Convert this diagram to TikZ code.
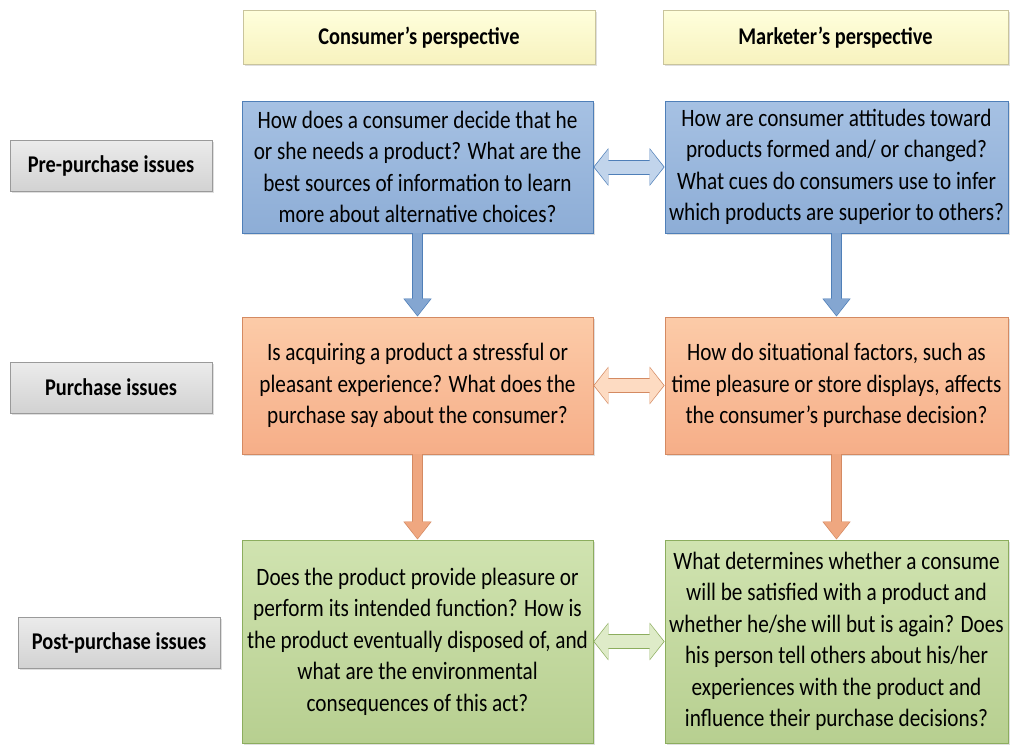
\documentclass[tikz,border=0pt]{standalone}
\usepackage{fontspec}
\setmainfont{Carlito}[FakeStretch=0.85]
\usepackage{tikz}
\usetikzlibrary{arrows.meta}
\usetikzlibrary{shadows}

\definecolor{hdrtop}{HTML}{FFFFDC}
\definecolor{hdrbot}{HTML}{F7F2BE}
\definecolor{hdrrim}{HTML}{C9C49C}
\definecolor{lbltop}{HTML}{EBEBEB}
\definecolor{lblbot}{HTML}{D2D2D2}
\definecolor{lblrim}{HTML}{9A9A9A}
\definecolor{bluetop}{HTML}{A6C1E3}
\definecolor{bluebot}{HTML}{8DADD6}
\definecolor{bluerim}{HTML}{4F7FB8}
\definecolor{orangetop}{HTML}{FCCBA8}
\definecolor{orangebot}{HTML}{F6AE88}
\definecolor{orangerim}{HTML}{D48A62}
\definecolor{greentop}{HTML}{D0E3B0}
\definecolor{greenbot}{HTML}{B7CF90}
\definecolor{greenrim}{HTML}{8CAD5E}

\tikzset{
        panel/.style n args={3}{rectangle, inner sep=0pt, align=center,
                draw=#3, line width=0.8pt, top color=#1, bottom color=#2,
                drop shadow={opacity=0.25, shadow xshift=1.5pt, shadow yshift=-1.5pt},
                font=\fontsize{25}{31.5}\selectfont},
        header/.style={panel={hdrtop}{hdrbot}{hdrrim}, minimum height=54pt,
                font=\fontsize{24}{28}\selectfont\bfseries},
        issue/.style={panel={lbltop}{lblbot}{lblrim}, minimum width=202pt,
                minimum height=51pt, font=\fontsize{24}{28}\selectfont\bfseries},
        downrim/.style={line width=11pt, draw=#1, -{Triangle[width=27pt,length=18pt]}},
        downfill/.style={line width=9pt, draw=#1, shorten >=1pt, -{Triangle[width=25pt,length=17pt]}},
        bothrim/.style={line width=15pt, draw=#1,
                {Triangle[width=37pt,length=15pt]}-{Triangle[width=37pt,length=15pt]}},
        bothfill/.style={line width=13pt, draw=#1, shorten >=1pt, shorten <=1pt,
                {Triangle[width=35pt,length=14pt]}-{Triangle[width=35pt,length=14pt]}},
}

\begin{document}
\begin{tikzpicture}[x=1pt, y=-1pt]
        \useasboundingbox (0,0) rectangle (1010,745);

        % column headers
        \node[header, minimum width=352pt] (hcons) at (419,37.5) {Consumer’s perspective};
        \node[header, minimum width=345pt] (hmark) at (835.5,37.5) {Marketer’s perspective};

        % row labels
        \node[issue] (pre) at (111,166) {Pre-purchase issues};
        \node[issue] (pur) at (111,387.5) {Purchase issues};
        \node[issue] (post) at (119,643) {Post-purchase issues};

        % pre-purchase
        \node[panel={bluetop}{bluebot}{bluerim}, minimum width=351pt, minimum height=132pt]
                (preC) at (417.5,167) {How does a consumer decide that he\\or she needs a product? What are the\\best sources of information to learn\\more about alternative choices?};
        \node[panel={bluetop}{bluebot}{bluerim}, minimum width=343pt, minimum height=132pt]
                (preM) at (836.5,167) {How are consumer attitudes toward\\products formed and/ or changed?\\What cues do consumers use to infer\\which products are superior to others?};

        % purchase
        \node[panel={orangetop}{orangebot}{orangerim}, minimum width=351pt, minimum height=137pt]
                (purC) at (417.5,385.5) {Is acquiring a product a stressful or\\pleasant experience? What does the\\purchase say about the consumer?};
        \node[panel={orangetop}{orangebot}{orangerim}, minimum width=343pt, minimum height=137pt]
                (purM) at (836.5,385.5) {How do situational factors, such as\\time pleasure or store displays, affects\\the consumer’s purchase decision?};

        % post-purchase
        \node[panel={greentop}{greenbot}{greenrim}, minimum width=351pt, minimum height=203pt]
                (postC) at (417.5,641.5) {Does the product provide pleasure or\\perform its intended function? How is\\the product eventually disposed of, and\\what are the environmental\\consequences of this act?};
        \node[panel={greentop}{greenbot}{greenrim}, minimum width=343pt, minimum height=203pt]
                (postM) at (836.5,641.5) {What determines whether a consume\\will be satisfied with a product and\\whether he/she will but is again? Does\\his person tell others about his/her\\experiences with the product and\\influence their purchase decisions?};

        % down arrows
        \draw[downrim=bluerim] (preC.south) -- (purC.north);
        \draw[downfill=bluebot!85!bluerim] (preC.south) -- (purC.north);
        \draw[downrim=bluerim] (preM.south) -- (purM.north);
        \draw[downfill=bluebot!85!bluerim] (preM.south) -- (purM.north);
        \draw[downrim=orangerim] (purC.south) -- (postC.north);
        \draw[downfill=orangebot!80!orangerim] (purC.south) -- (postC.north);
        \draw[downrim=orangerim] (purM.south) -- (postM.north);
        \draw[downfill=orangebot!80!orangerim] (purM.south) -- (postM.north);

        % two-way arrows
        \draw[bothrim=bluerim] (preC.east) -- (preM.west);
        \draw[bothfill=bluetop!70!white] (preC.east) -- (preM.west);
        \draw[bothrim=orangerim] (purC.east) -- (purM.west);
        \draw[bothfill=orangetop!70!white] (purC.east) -- (purM.west);
        \draw[bothrim=greenrim] (postC.east) -- (postM.west);
        \draw[bothfill=greentop!70!white] (postC.east) -- (postM.west);
\end{tikzpicture}
\end{document}
